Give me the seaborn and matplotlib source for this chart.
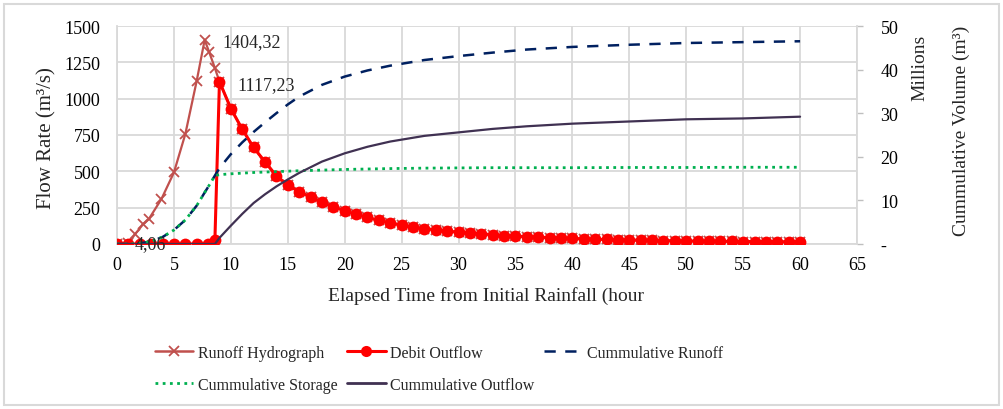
import matplotlib
matplotlib.use("Agg")
import matplotlib.pyplot as plt
from matplotlib.lines import Line2D
from matplotlib.patches import Rectangle
import seaborn as sns
import numpy as np

# ---------------- data ----------------
# Runoff hydrograph (inflow), m3/s
runoff_t = [0, 1, 1.6, 2.3, 2.8, 3.9, 5.0, 6.0, 7.0, 7.7, 8.1, 8.6, 9.0,
            10, 11, 12, 13, 14, 15, 16, 17, 18, 19, 20, 21, 22, 23, 24, 25, 26, 27, 28, 29, 30,
            31, 32, 33, 34, 35, 36, 37, 38, 39, 40, 41, 42, 43, 44, 45, 46, 47, 48, 49, 50,
            51, 52, 53, 54, 55, 56, 57, 58, 59, 60]
runoff_q = [0, 4.06, 69, 137, 172, 309, 492, 756, 1122, 1404.32, 1320, 1210, 1117.23,
            932, 790, 664, 565, 469, 405, 360, 323, 286, 256, 229, 204, 183, 162, 145, 130, 116, 106, 98, 89, 81,
            75, 69, 65, 58, 54, 51, 47, 44, 41, 38, 35, 33, 31, 29, 28, 26, 25, 23, 22, 21,
            20, 19, 19, 18, 17, 17, 16, 16, 15, 15]

# Debit outflow, m3/s
outflow_t = [0, 1, 2, 3, 4, 5, 6, 7, 8, 8.6, 9,
             10, 11, 12, 13, 14, 15, 16, 17, 18, 19, 20, 21, 22, 23, 24, 25, 26, 27, 28, 29, 30,
             31, 32, 33, 34, 35, 36, 37, 38, 39, 40, 41, 42, 43, 44, 45, 46, 47, 48, 49, 50,
             51, 52, 53, 54, 55, 56, 57, 58, 59, 60]
outflow_q = [0, 0, 0, 0, 0, 0, 0, 0, 0, 30, 1117.23,
             932, 790, 664, 565, 469, 405, 360, 323, 286, 256, 229, 204, 183, 162, 145, 130, 116, 106, 98, 89, 81,
             75, 69, 65, 58, 54, 51, 47, 44, 41, 38, 35, 33, 31, 29, 28, 26, 25, 23, 22, 21,
             20, 19, 19, 18, 17, 17, 16, 16, 15, 15]

# Cumulative volumes, millions m3
cum_t = [0, 1, 2, 3, 4, 5, 6, 7, 7.7, 8.2, 8.6, 9, 10, 11, 12, 13, 14, 15, 16, 18, 20, 22,
         24, 27, 30, 33, 36, 40, 45, 50, 55, 60]
cum_runoff = [0, 0, 0.15, 0.6, 1.6, 3.2, 5.5, 8.8, 11.8, 13.9, 15.7, 17.4, 20.6, 23.3, 25.7, 27.9,
              30.0, 32.0, 33.8, 36.5, 38.4, 39.8, 40.9, 42.2, 43.1, 43.9, 44.6, 45.2, 45.7, 46.1,
              46.3, 46.5]
cum_storage = [0, 0, 0.15, 0.6, 1.6, 3.2, 5.5, 8.8, 11.8, 13.9, 15.7, 15.9, 16.1, 16.25, 16.4,
               16.5, 16.6, 16.7, 16.8, 16.95, 17.1, 17.2, 17.3, 17.4, 17.45, 17.5, 17.5, 17.5,
               17.55, 17.55, 17.6, 17.6]
cum_outflow = [0, 0, 0, 0, 0, 0, 0, 0, 0, 0, 0, 1.4, 4.2, 6.9, 9.4, 11.4, 13.2, 14.8, 16.3, 18.9,
               20.8, 22.3, 23.5, 24.8, 25.6, 26.4, 27.0, 27.6, 28.1, 28.6, 28.8, 29.2]

x_ticks = list(range(0, 70, 5))
y_ticks = [0, 250, 500, 750, 1000, 1250, 1500]
y2_ticks = [0, 10, 20, 30, 40, 50]
y2_labels = ["-", "10", "20", "30", "40", "50"]

labels = ["Runoff Hydrograph", "Debit Outflow", "Cummulative Runoff",
          "Cummulative Storage", "Cummulative Outflow"]

# ---------------- style ----------------
sns.set_theme(style="white")
plt.rcParams["font.family"] = ["Liberation Serif", "DejaVu Serif"]
plt.rcParams["axes.unicode_minus"] = False

W, H = 1004, 410
fig = plt.figure(figsize=(W / 100, H / 100), dpi=100)
fig.patch.set_facecolor("white")

L, R, T, B = 117, 857, 27, 245
ax = fig.add_axes([L / W, 1 - B / H, (R - L) / W, (B - T) / H])
ax2 = ax.twinx()

c_runoff = "#C0504D"
c_out = "#FF0000"
c_crun = "#002060"
c_cst = "#00B050"
c_cout = "#403152"

sns.lineplot(x=runoff_t, y=runoff_q, ax=ax, color=c_runoff, lw=1.6, marker="x",
             markersize=7.5, markeredgewidth=1.3, markeredgecolor=c_runoff, sort=False,
             estimator=None, zorder=3)
sns.lineplot(x=outflow_t, y=outflow_q, ax=ax, color=c_out, lw=2.2, marker="o",
             markersize=8.5, markeredgewidth=0, markerfacecolor=c_out, sort=False,
             estimator=None, zorder=4)

sns.lineplot(x=cum_t, y=cum_runoff, ax=ax2, color=c_crun, lw=1.8,
             linestyle=(0, (4.5, 3.8)), sort=False, estimator=None)
sns.lineplot(x=cum_t, y=cum_storage, ax=ax2, color=c_cst, lw=2.0,
             linestyle=(0, (1, 1.6)), sort=False, estimator=None)
sns.lineplot(x=cum_t, y=cum_outflow, ax=ax2, color=c_cout, lw=1.6, sort=False,
             estimator=None)

ax.set_xlim(0, 65)
ax.set_ylim(0, 1500)
ax2.set_ylim(0, 50)
ax.set_xticks(x_ticks)
ax.set_yticks(y_ticks)
ax2.set_yticks(y2_ticks)
ax2.set_yticklabels(y2_labels)

ax.grid(True, color="#D9D9D9", lw=1.3)
ax.set_axisbelow(True)
for s in ["top", "right"]:
    ax.spines[s].set_visible(False)
for s in ["left", "bottom"]:
    ax.spines[s].set_color("#D9D9D9")
    ax.spines[s].set_linewidth(1.3)
for s in ["top", "left", "bottom"]:
    ax2.spines[s].set_visible(False)
ax2.spines["right"].set_color("#D9D9D9")
ax2.spines["right"].set_linewidth(1.3)

ax.tick_params(axis="both", length=0, labelsize=13, colors="black")
ax.tick_params(axis="x", pad=9)
ax.tick_params(axis="y", pad=12)
ax2.tick_params(axis="y", length=4, width=1, color="#BFBFBF", labelsize=13, pad=13,
                labelcolor="black")
ax.set_xlabel("")
ax.set_ylabel("")
ax2.set_ylabel("")

# data labels (on top)
ax2.text(9.3, 1396, "1404,32", transform=ax.transData, fontsize=13, va="center", ha="left")
ax2.text(10.6, 1100, "1117,23", transform=ax.transData, fontsize=13, va="center", ha="left")
ax2.text(1.55, 0, "4,06", transform=ax.transData, fontsize=13, va="center", ha="left",
         zorder=10)

# axis titles
fig.text(47 / W, 1 - 138 / H, "Flow Rate (m³/s)", rotation=90, ha="center", va="center",
         fontsize=15)
fig.text(486 / W, 1 - 296 / H, "Elapsed Time from Initial Rainfall (hour", ha="center",
         va="center", fontsize=14)
fig.text(920 / W, 1 - 68 / H, "Millions", rotation=90, ha="center", va="center", fontsize=14)
fig.text(961 / W, 1 - 131 / H, "Cummulative Volume (m³)", rotation=90, ha="center",
         va="center", fontsize=14)

# legend
handles = [
    Line2D([], [], color=c_runoff, lw=1.8, marker="x", markersize=7, markeredgewidth=1.3),
    Line2D([], [], color=c_out, lw=2.2, marker="o", markersize=8, markeredgewidth=0),
    Line2D([], [], color=c_crun, lw=1.8, linestyle=(0, (4.5, 3.8))),
    Line2D([], [], color=c_cst, lw=2.0, linestyle=(0, (1, 1.6))),
    Line2D([], [], color=c_cout, lw=2.0),
]
order = [0, 3, 1, 4, 2]
leg = fig.legend([handles[i] for i in order], [labels[i] for i in order],
                 loc="upper left", bbox_to_anchor=(147 / W, 1 - 338 / H), ncol=3,
                 frameon=False, fontsize=11.5, handlelength=2.4, handletextpad=0.3,
                 columnspacing=0.6, labelspacing=1.0, borderpad=0)

fig.patches.append(Rectangle((4 / W, 4 / H), 995 / W, 401 / H, transform=fig.transFigure,
                             fill=False, edgecolor="#D9D9D9", lw=1.5))

fig.savefig("out.png", dpi=100)
